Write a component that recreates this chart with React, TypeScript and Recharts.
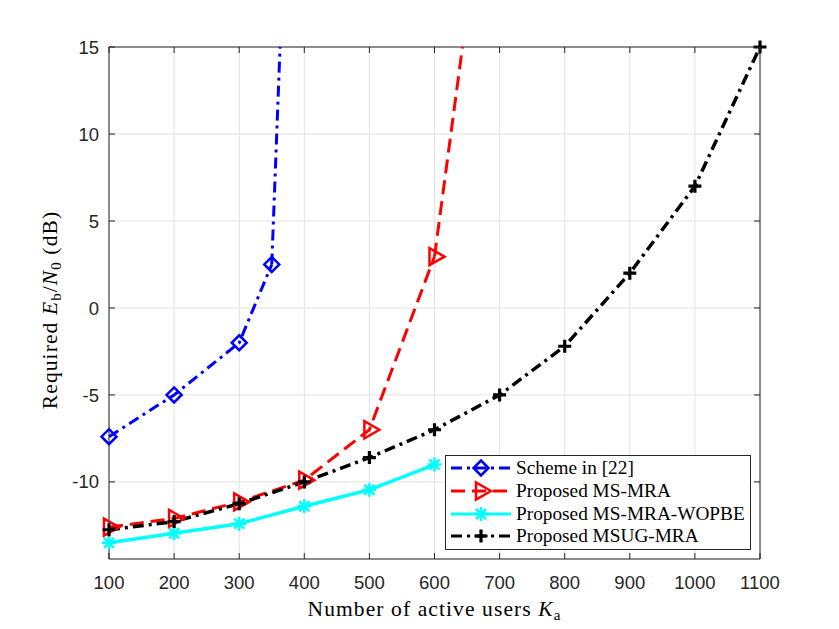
import React from 'react';
import { CartesianGrid, Legend, Line, LineChart, ReferenceLine, XAxis, YAxis } from 'recharts';

// number of active users (x) and required Eb/N0 in dB (y)
const schemeUsers = [100, 200, 300, 350];
const schemeDb = [-7.4, -5.0, -2.0, 2.5];
const schemeTailUsers = [350, 375];
const schemeTailDb = [2.5, 27];

const msMraUsers = [100, 200, 300, 400, 500, 600];
const msMraDb = [-12.6, -12.1, -11.15, -9.9, -7.0, 2.95];
const msMraTailUsers = [600, 700];
const msMraTailDb = [2.95, 31];

const wopbeUsers = [100, 200, 300, 400, 500, 600];
const wopbeDb = [-13.5, -12.95, -12.4, -11.4, -10.45, -9.0];

const msugUsers = [100, 200, 300, 400, 500, 600, 700, 800, 900, 1000, 1100];
const msugDb = [-12.75, -12.28, -11.25, -10.0, -8.6, -7.0, -5.0, -2.2, 2.0, 7.0, 15.0];

const xTicks = [100, 200, 300, 400, 500, 600, 700, 800, 900, 1000, 1100];
const yTicks = [-10, -5, 0, 5, 10, 15];
const xDomain = [100, 1100];
const yDomain = [-14.43, 15];

const legendLabels = ['Scheme in [22]', 'Proposed MS-MRA', 'Proposed MS-MRA-WOPBE', 'Proposed MSUG-MRA'];

const toPoints = (xs: number[], ys: number[]) => xs.map((x, i) => ({ x, y: ys[i] }));

// layout
const W = 839;
const H = 629;
const MARGIN = { top: 47, right: 79, bottom: 20, left: 0 };
const Y_AXIS_W = 109;
const X_AXIS_H = 50;
const PLOT_TOP = MARGIN.top;
const PLOT_RIGHT = W - MARGIN.right;
const TICK_LEN = 6;

const AXIS = '#262626';
const GRID = '#e3e3e3';
const TICK_FONT = '"Liberation Sans", Arial, sans-serif';
const SERIF = '"Liberation Serif", "Times New Roman", serif';

const BLUE = '#0000ff';
const RED = '#ff0000';
const CYAN = '#00ffff';
const BLACK = '#000000';

const DASH = '14 7';
const DASH_DOT = '11 5 3 5';

const Diamond = ({ cx, cy }: any) => (
  <polygon
    points={`${cx},${cy - 7.5} ${cx + 7.5},${cy} ${cx},${cy + 7.5} ${cx - 7.5},${cy}`}
    fill="none"
    stroke={BLUE}
    strokeWidth={2.5}
  />
);

const TriRight = ({ cx, cy }: any) => (
  <polygon
    points={`${cx + 10},${cy} ${cx - 5},${cy - 8.5} ${cx - 5},${cy + 8.5}`}
    fill="none"
    stroke={RED}
    strokeWidth={2.5}
  />
);

const Asterisk = ({ cx, cy }: any) => {
  const r = 7;
  const d = r * 0.72;
  return (
    <path
      d={`M${cx - r},${cy}H${cx + r}M${cx},${cy - r}V${cy + r}M${cx - d},${cy - d}L${cx + d},${cy + d}M${cx - d},${cy + d}L${cx + d},${cy - d}`}
      stroke={CYAN}
      strokeWidth={2.5}
      fill="none"
    />
  );
};

const Plus = ({ cx, cy }: any) => (
  <path d={`M${cx - 6.5},${cy}H${cx + 6.5}M${cx},${cy - 6.5}V${cy + 6.5}`} stroke={BLACK} strokeWidth={3.2} fill="none" />
);

// bottom tick label + inward ticks on the bottom and top edges
const XTick = ({ x, y, payload }: any) => {
  const axisY = y - 17;
  return (
    <g>
      <line x1={x} x2={x} y1={axisY} y2={axisY - TICK_LEN} stroke={AXIS} strokeWidth={1} />
      <line x1={x} x2={x} y1={PLOT_TOP} y2={PLOT_TOP + TICK_LEN} stroke={AXIS} strokeWidth={1} />
      <text x={x} y={y} dy="0.71em" textAnchor="middle" fill={AXIS} fontSize={18.5} fontFamily={TICK_FONT}>
        {payload.value}
      </text>
    </g>
  );
};

// left tick label + inward ticks on the left and right edges
const YTick = ({ x, y, payload }: any) => {
  const axisX = x + 10;
  return (
    <g>
      <line x1={axisX} x2={axisX + TICK_LEN} y1={y} y2={y} stroke={AXIS} strokeWidth={1} />
      <line x1={PLOT_RIGHT} x2={PLOT_RIGHT - TICK_LEN} y1={y} y2={y} stroke={AXIS} strokeWidth={1} />
      <text x={x} y={y} dy="0.355em" textAnchor="end" fill={AXIS} fontSize={18.5} fontFamily={TICK_FONT}>
        {payload.value}
      </text>
    </g>
  );
};

const YLabel = ({ viewBox }: any) => {
  const cy = viewBox.y + viewBox.height / 2 + 7;
  const x = 57;
  return (
    <text
      transform={`rotate(-90, ${x}, ${cy})`}
      x={x}
      y={cy}
      textAnchor="middle"
      fontFamily={SERIF}
      fontSize={21.5}
      fill="#000"
      letterSpacing={1.1}
    >
      Required <tspan fontStyle="italic">E</tspan>
      <tspan fontSize={15} dy={4}>b</tspan>
      <tspan dy={-4}>/</tspan>
      <tspan fontStyle="italic">N</tspan>
      <tspan fontSize={15} dy={4}>0</tspan>
      <tspan dy={-4}> (dB)</tspan>
    </text>
  );
};

const XLabel = ({ viewBox }: any) => {
  const cx = viewBox.x + viewBox.width / 2;
  return (
    <text x={cx} y={616} textAnchor="middle" fontFamily={SERIF} fontSize={21.5} fill="#000" letterSpacing={1.1}>
      Number of active users <tspan fontStyle="italic">K</tspan>
      <tspan fontSize={15} dy={4}>a</tspan>
    </text>
  );
};

const legendStyles = [
  { color: BLUE, dash: DASH_DOT, Marker: Diamond },
  { color: RED, dash: DASH, Marker: TriRight },
  { color: CYAN, dash: undefined, Marker: Asterisk },
  { color: BLACK, dash: DASH_DOT, Marker: Plus },
];

const LegendBox = () => (
  <div
    style={{
      border: `1px solid ${AXIS}`,
      background: '#fff',
      width: 304,
      padding: '1px 0',
      fontFamily: SERIF,
      fontSize: 19.3,
      color: '#000',
    }}
  >
    {legendLabels.map((label, i) => {
      const { color, dash, Marker } = legendStyles[i];
      return (
        <div key={label} style={{ display: 'flex', alignItems: 'center', height: 22.7 }}>
          <svg width={60} height={22} style={{ marginLeft: 5, flex: 'none' }}>
            <line x1={0} x2={60} y1={11} y2={11} stroke={color} strokeWidth={3} strokeDasharray={dash} />
            <Marker cx={30} cy={11} />
          </svg>
          <span style={{ marginLeft: 5, whiteSpace: 'nowrap', lineHeight: '22px' }}>{label}</span>
        </div>
      );
    })}
  </div>
);

export default function App() {
  return (
    <div style={{ margin: -8, width: W, height: H, background: '#fff', position: 'relative' }}>
      <LineChart width={W} height={H} margin={MARGIN}>
        <CartesianGrid stroke={GRID} strokeWidth={1} yAxisId="a-main" />
        <XAxis
          type="number"
          dataKey="x"
          domain={xDomain}
          ticks={xTicks}
          interval={0}
          height={X_AXIS_H}
          tickSize={0}
          tickMargin={17}
          tickLine={false}
          axisLine={{ stroke: AXIS, strokeWidth: 1 }}
          tick={<XTick />}
          label={<XLabel />}
        />
        <YAxis
          yAxisId="a-main"
          type="number"
          domain={yDomain}
          ticks={yTicks}
          interval={0}
          width={Y_AXIS_W}
          tickSize={0}
          tickMargin={10}
          tickLine={false}
          axisLine={{ stroke: AXIS, strokeWidth: 1 }}
          tick={<YTick />}
          label={<YLabel />}
        />
        <YAxis yAxisId="z-clip" type="number" domain={yDomain} width={0} allowDataOverflow hide />

        <ReferenceLine yAxisId="a-main" y={15} stroke={AXIS} strokeWidth={1} />
        <ReferenceLine yAxisId="a-main" x={1100} stroke={AXIS} strokeWidth={1} />

        <Line
          yAxisId="z-clip"
          data={toPoints(schemeTailUsers, schemeTailDb)}
          dataKey="y"
          type="linear"
          stroke={BLUE}
          strokeWidth={3}
          strokeDasharray={DASH_DOT}
          dot={false}
          activeDot={false}
          isAnimationActive={false}
          legendType="none"
        />
        <Line
          yAxisId="z-clip"
          data={toPoints(msMraTailUsers, msMraTailDb)}
          dataKey="y"
          type="linear"
          stroke={RED}
          strokeWidth={3}
          strokeDasharray={DASH}
          dot={false}
          activeDot={false}
          isAnimationActive={false}
          legendType="none"
        />
        <Line
          yAxisId="a-main"
          data={toPoints(schemeUsers, schemeDb)}
          dataKey="y"
          type="linear"
          stroke={BLUE}
          strokeWidth={3}
          strokeDasharray={DASH_DOT}
          dot={(p: any) => <Diamond key={`s-${p.index}`} cx={p.cx} cy={p.cy} />}
          activeDot={false}
          isAnimationActive={false}
        />
        <Line
          yAxisId="a-main"
          data={toPoints(msMraUsers, msMraDb)}
          dataKey="y"
          type="linear"
          stroke={RED}
          strokeWidth={3}
          strokeDasharray={DASH}
          dot={(p: any) => <TriRight key={`m-${p.index}`} cx={p.cx} cy={p.cy} />}
          activeDot={false}
          isAnimationActive={false}
        />
        <Line
          yAxisId="a-main"
          data={toPoints(wopbeUsers, wopbeDb)}
          dataKey="y"
          type="linear"
          stroke={CYAN}
          strokeWidth={3.5}
          dot={(p: any) => <Asterisk key={`w-${p.index}`} cx={p.cx} cy={p.cy} />}
          activeDot={false}
          isAnimationActive={false}
        />
        <Line
          yAxisId="a-main"
          data={toPoints(msugUsers, msugDb)}
          dataKey="y"
          type="linear"
          stroke={BLACK}
          strokeWidth={3.5}
          strokeDasharray={DASH_DOT}
          dot={(p: any) => <Plus key={`u-${p.index}`} cx={p.cx} cy={p.cy} />}
          activeDot={false}
          isAnimationActive={false}
        />
        <Legend
          layout="vertical"
          align="center"
          verticalAlign="middle"
          wrapperStyle={{ position: 'absolute', left: 445, top: 455, width: 'auto', height: 'auto' }}
          content={() => <LegendBox />}
        />
      </LineChart>
    </div>
  );
}
